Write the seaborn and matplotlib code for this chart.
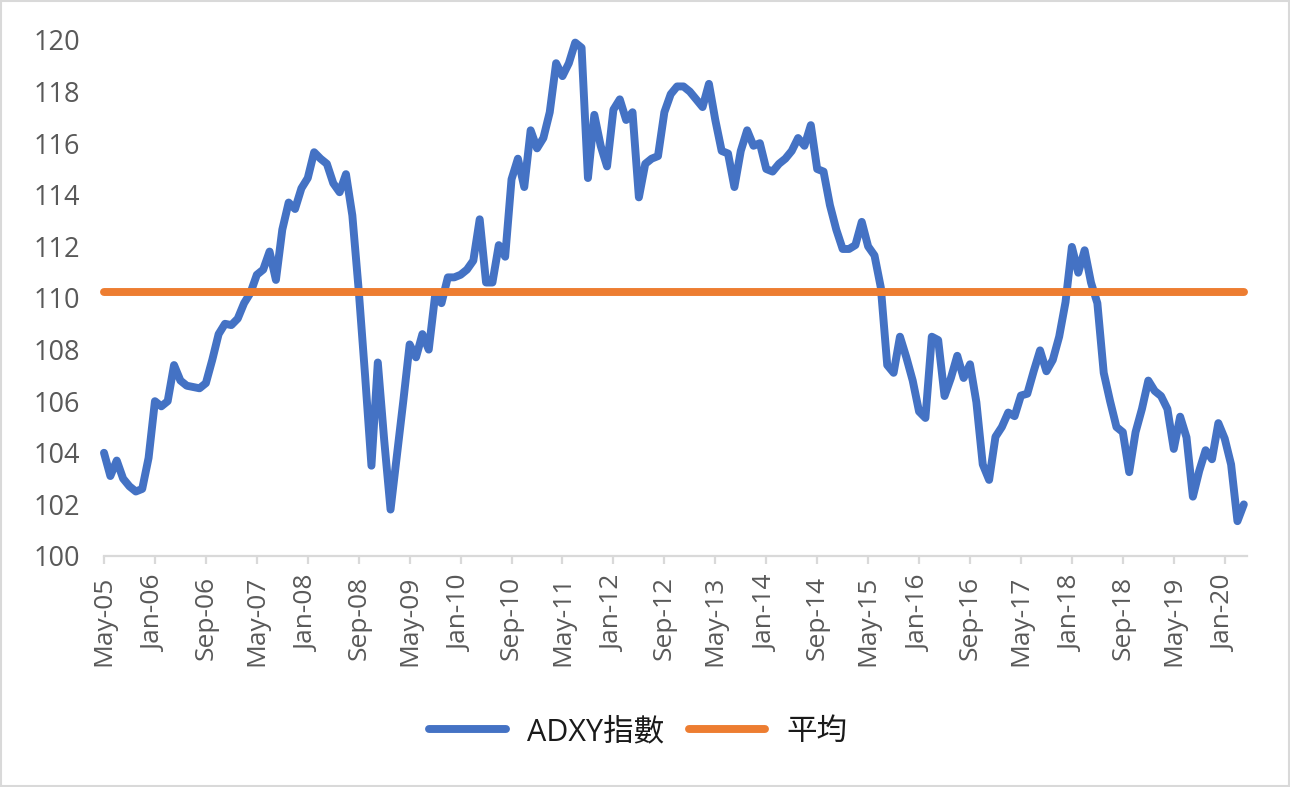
import numpy as np
import pandas as pd
import matplotlib
matplotlib.use('Agg')
import matplotlib.pyplot as plt
import seaborn as sns
from matplotlib.patches import Rectangle

# ---- data (monthly, May-05 onwards) ----
adxy = [
    104.0, 103.1, 103.7, 103.0, 102.7, 102.5, 102.6, 103.8, 106.0, 105.8,
    106.0, 107.4, 106.8, 106.6, 106.55, 106.5, 106.7, 107.6, 108.6, 109.0,
    108.95, 109.2, 109.8, 110.2, 110.9, 111.1, 111.8, 110.7, 112.65, 113.7,
    113.45, 114.25, 114.65, 115.65, 115.4, 115.2, 114.45, 114.1, 114.8, 113.2,
    110.3, 107.0, 103.5, 107.5, 104.5, 101.8, 103.9, 106.0, 108.2, 107.7,
    108.6, 108.0, 110.1, 109.8, 110.8, 110.8, 110.9, 111.1, 111.45, 113.05,
    110.6, 110.6, 112.05, 111.6, 114.6, 115.4, 114.3, 116.5, 115.8, 116.2,
    117.2, 119.1, 118.6, 119.1, 119.9, 119.7, 114.65, 117.1, 115.9, 115.1,
    117.3, 117.7, 116.9, 117.2, 113.9, 115.2, 115.4, 115.5, 117.2, 117.9,
    118.2, 118.2, 118.0, 117.7, 117.4, 118.3, 116.9, 115.7, 115.6, 114.3,
    115.7, 116.5, 115.9, 116.0, 115.0, 114.9, 115.2, 115.4, 115.7, 116.2,
    115.9, 116.7, 115.0, 114.9, 113.6, 112.65, 111.9, 111.9, 112.05, 112.95,
    112.0, 111.65, 110.4, 107.4, 107.1, 108.5, 107.7, 106.8, 105.6, 105.35,
    108.5, 108.37, 106.2, 106.9, 107.76, 106.9, 107.43, 105.96, 103.55, 102.95,
    104.62, 105.0, 105.56, 105.42, 106.22, 106.29, 107.16, 107.97, 107.16, 107.6,
    108.5, 109.84, 111.98, 110.98, 111.85, 110.6, 109.8, 107.1, 106.0, 105.0,
    104.8, 103.25, 104.8, 105.7, 106.8, 106.4, 106.2, 105.7, 104.15, 105.4,
    104.6, 102.3, 103.3, 104.1, 103.75, 105.15, 104.55, 103.55, 101.35, 102.0,
]
mean_value = 110.25
series_names = ['ADXY指數', '平均']
tick_labels = ['May-05', 'Jan-06', 'Sep-06', 'May-07', 'Jan-08', 'Sep-08',
               'May-09', 'Jan-10', 'Sep-10', 'May-11', 'Jan-12', 'Sep-12',
               'May-13', 'Jan-14', 'Sep-14', 'May-15', 'Jan-16', 'Sep-16',
               'May-17', 'Jan-18', 'Sep-18', 'May-19', 'Jan-20']
y_ticks = [100, 102, 104, 106, 108, 110, 112, 114, 116, 118, 120]

sns.set_theme(style='white')
plt.rcParams['font.family'] = ['Open Sans', 'Noto Sans CJK TC', 'DejaVu Sans']

n = len(adxy)
df = pd.DataFrame({'month': np.arange(n), 'value': adxy,
                   'mean': [mean_value] * n})

W, H = 1290, 787
fig = plt.figure(figsize=(W / 100, H / 100), dpi=100)
ax = fig.add_axes([104 / W, 1 - 556 / H, (1247 - 104) / W, (556 - 40) / H])

sns.lineplot(data=df, x='month', y='value', ax=ax, color='#4472C4',
             linewidth=5.7, label=series_names[0],
             solid_capstyle='round', solid_joinstyle='round', clip_on=False)
sns.lineplot(data=df, x='month', y='mean', ax=ax, color='#ED7D31',
             linewidth=5.7, label=series_names[1],
             solid_capstyle='round', clip_on=False)

ax.set_xlim(0, n - 0.5)
ax.set_ylim(100, 120)
ax.set_xticks(np.arange(len(tick_labels)) * 8)
ax.set_xticklabels(tick_labels)
ax.set_yticks(y_ticks)
ax.set_xlabel('')
ax.set_ylabel('')

for s in ['top', 'right', 'left']:
    ax.spines[s].set_visible(False)
ax.spines['bottom'].set_color('#d9d9d9')
ax.spines['bottom'].set_linewidth(1.6)

ax.tick_params(axis='x', direction='out', length=6, width=1.6,
               color='#d9d9d9', pad=8, labelsize=19, labelcolor='#595959',
               labelrotation=90, bottom=True)
ax.tick_params(axis='y', length=0, pad=17, labelsize=19.5, labelcolor='#595959')

handles, labels = ax.get_legend_handles_labels()
ax.get_legend().remove()
fig.legend(handles, labels, loc='center', bbox_to_anchor=(0.495, 1 - 732 / H),
           ncol=2, frameon=False, fontsize=22, handlelength=2.5,
           handletextpad=0.7, columnspacing=0.8, labelcolor='#1a1a1a')

fig.add_artist(Rectangle((0.0008, 0.0012), 0.9984, 0.9976,
                         transform=fig.transFigure, fill=False,
                         edgecolor='#d9d9d9', linewidth=1.5))

fig.savefig('out.png', dpi=100)
